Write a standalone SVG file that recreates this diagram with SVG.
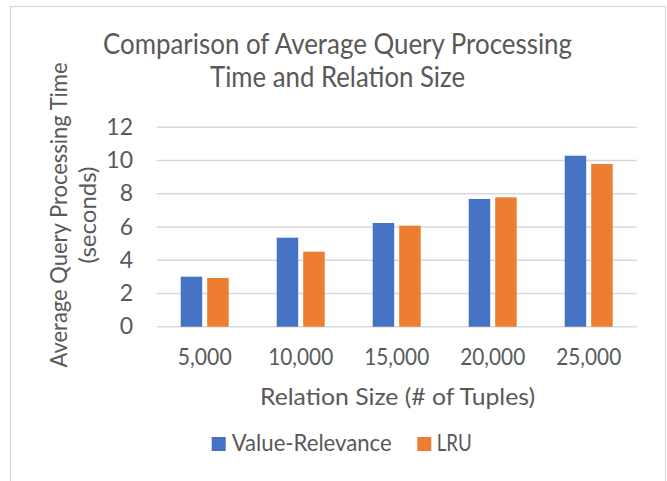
<svg xmlns="http://www.w3.org/2000/svg" width="667" height="481" viewBox="0 0 667 481">
  <style>
    text { font-family: Lato, "Open Sans", "Liberation Sans", sans-serif; fill: #595959; }
    .title { font-size: 28px; text-anchor: middle; }
    .axis-title { font-size: 24px; text-anchor: middle; }
    .tick { font-size: 23px; }
    .ytick { text-anchor: end; }
    .xtick { text-anchor: middle; }
    .legend { font-size: 23px; }
    .grid { stroke: #D9D9D9; stroke-width: 1.5; fill: none; }
    .s1 { fill: #4472C4; }
    .s2 { fill: #ED7D31; }
  </style>

  <!-- chart area -->
  <rect x="0" y="0" width="667" height="481" fill="#FFFFFF"/>
  <rect x="10.5" y="6.5" width="655" height="500" fill="#FFFFFF" stroke="#D9D9D9" stroke-width="1.2"/>

  <!-- title -->
  <g id="title">
    <text class="title" x="337.5" y="53.5" textLength="469" lengthAdjust="spacingAndGlyphs">Comparison of Average Query Processing</text>
    <text class="title" x="337.5" y="86.5" textLength="255" lengthAdjust="spacingAndGlyphs">Time and Relation Size</text>
  </g>

  <!-- horizontal gridlines, 0..12 step 2 -->
  <g id="gridlines">
    <line class="grid" x1="156.7" y1="127.3" x2="636.7" y2="127.3"/>
    <line class="grid" x1="156.7" y1="160.5" x2="636.7" y2="160.5"/>
    <line class="grid" x1="156.7" y1="193.7" x2="636.7" y2="193.7"/>
    <line class="grid" x1="156.7" y1="227" x2="636.7" y2="227"/>
    <line class="grid" x1="156.7" y1="260.2" x2="636.7" y2="260.2"/>
    <line class="grid" x1="156.7" y1="293.4" x2="636.7" y2="293.4"/>
    <line class="grid" x1="156.7" y1="326.7" x2="636.7" y2="326.7"/>
  </g>

  <!-- y-axis tick labels -->
  <g id="y-axis">
    <text class="tick ytick" x="133" y="135">12</text>
    <text class="tick ytick" x="133" y="168.2">10</text>
    <text class="tick ytick" x="133" y="201.4">8</text>
    <text class="tick ytick" x="133" y="234.6">6</text>
    <text class="tick ytick" x="133" y="267.8">4</text>
    <text class="tick ytick" x="133" y="301">2</text>
    <text class="tick ytick" x="133" y="334.3">0</text>
  </g>

  <!-- bars: Value-Relevance (blue) and LRU (orange) -->
  <g id="series-value-relevance">
    <rect class="s1" x="180.7" y="276.7" width="21.5" height="50"/>
    <rect class="s1" x="276.7" y="237.7" width="21.5" height="89"/>
    <rect class="s1" x="372.7" y="223" width="21.5" height="103.7"/>
    <rect class="s1" x="468.7" y="199" width="21.5" height="127.7"/>
    <rect class="s1" x="564.7" y="155.7" width="21.5" height="171"/>
  </g>
  <g id="series-lru">
    <rect class="s2" x="207.2" y="278" width="21.5" height="48.7"/>
    <rect class="s2" x="303.2" y="251.7" width="21.5" height="75"/>
    <rect class="s2" x="399.2" y="225.7" width="21.5" height="101"/>
    <rect class="s2" x="495.2" y="197.3" width="21.5" height="129.4"/>
    <rect class="s2" x="591.2" y="164" width="21.5" height="162.7"/>
  </g>

  <!-- x-axis category labels -->
  <g id="x-axis">
    <text class="tick xtick" x="204.7" y="365" textLength="54" lengthAdjust="spacingAndGlyphs">5,000</text>
    <text class="tick xtick" x="300.7" y="365" textLength="65" lengthAdjust="spacingAndGlyphs">10,000</text>
    <text class="tick xtick" x="396.7" y="365" textLength="65" lengthAdjust="spacingAndGlyphs">15,000</text>
    <text class="tick xtick" x="492.7" y="365" textLength="65" lengthAdjust="spacingAndGlyphs">20,000</text>
    <text class="tick xtick" x="588.7" y="365" textLength="65" lengthAdjust="spacingAndGlyphs">25,000</text>
  </g>

  <!-- axis titles -->
  <g id="x-axis-title">
    <text class="axis-title" x="397.5" y="405" textLength="275" lengthAdjust="spacingAndGlyphs">Relation Size (# of Tuples)</text>
  </g>
  <g id="y-axis-title">
    <text class="axis-title" transform="translate(67,215) rotate(-90)" textLength="305" lengthAdjust="spacingAndGlyphs">Average Query Processing Time</text>
    <text class="axis-title" transform="translate(96,215) rotate(-90)">(seconds)</text>
  </g>

  <!-- legend -->
  <g id="legend">
    <rect class="s1" x="211.7" y="437" width="14" height="14"/>
    <text class="legend" x="231.7" y="451" textLength="160" lengthAdjust="spacingAndGlyphs">Value-Relevance</text>
    <rect class="s2" x="417.3" y="437" width="14" height="14"/>
    <text class="legend" x="436.7" y="451" textLength="35" lengthAdjust="spacingAndGlyphs">LRU</text>
  </g>
</svg>
